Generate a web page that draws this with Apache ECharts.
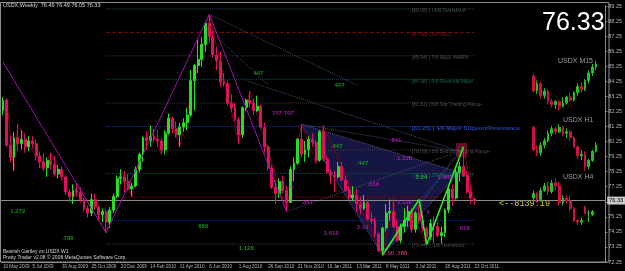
<!DOCTYPE html>
<html>
<head>
<meta charset="utf-8">
<script src="https://cdn.jsdelivr.net/npm/echarts/dist/echarts.min.js"></script>
<style>
html, body { margin: 0; padding: 0; background: #000; }
#main { width: 625px; height: 271px; }
</style>
</head>
<body>
<div id="main"></div>
<script>
// weekly bars, first bar = week of 10 May 2009, one label every 8 weeks
var tickLabels = ['10 May 2009', '5 Jul 2009', '30 Aug 2009', '25 Oct 2009', '20 Dec 2009', '14 Feb 2010',
    '11 Apr 2010', '6 Jun 2010', '1 Aug 2010', '26 Sep 2010', '21 Nov 2010', '16 Jan 2011', '13 Mar 2011',
    '8 May 2011', '3 Jul 2011', '28 Aug 2011', '23 Oct 2011'];

var weekOpen = [82.3, 83.0, 80.0, 79.2, 80.5, 80.1, 80.4, 79.9, 80.3, 80.1, 79.3, 78.9, 78.5, 79.0, 78.7, 78.1, 78.4, 77.9, 76.9, 76.6,
    77.0, 76.9, 76.4, 75.8, 75.5, 76.4, 75.9, 75.4, 75.6, 74.9, 75.7, 76.6, 77.8, 77.9, 77.6, 77.1, 77.3, 78.4, 79.4, 80.5,
    80.3, 80.6, 80.4, 80.3, 79.7, 80.8, 81.8, 81.1, 80.7, 81.2, 81.5, 82.0, 84.3, 85.3, 85.7, 86.7, 88.1, 87.2, 86.0, 85.6,
    84.2, 84.1, 82.8, 82.5, 81.7, 80.7, 82.5, 83.0, 82.8, 82.3, 82.6, 81.2, 79.9, 78.5, 77.2, 76.8, 77.6, 77.0, 76.2, 78.4,
    78.8, 80.4, 79.4, 79.7, 80.4, 80.2, 79.0, 80.9, 79.1, 78.2, 78.0, 77.9, 78.6, 77.7, 77.0, 76.5, 76.7, 76.1, 75.8, 76.2,
    75.1, 75.0, 74.1, 73.0, 74.5, 75.5, 75.6, 74.6, 73.7, 74.6, 75.0, 75.6, 74.4, 75.5, 75.0, 74.5, 73.9, 74.8, 74.6, 74.0,
    74.2, 75.7, 77.1, 76.5, 78.2, 78.6, 78.0, 76.9, 76.46];
var weekHigh = [83.2, 83.1, 80.6, 80.9, 81.4, 81.0, 80.8, 80.6, 80.6, 80.4, 79.6, 79.5, 79.2, 79.5, 79.3, 78.7, 78.6, 78.0, 77.1, 77.4,
    77.5, 77.2, 76.5, 76.0, 76.8, 76.8, 76.0, 75.8, 75.8, 75.9, 76.8, 78.0, 78.4, 78.3, 78.1, 77.5, 78.6, 79.5, 80.6, 80.9,
    81.3, 81.1, 81.0, 80.5, 81.0, 82.1, 81.9, 81.6, 81.5, 81.8, 82.5, 85.0, 85.4, 87.0, 87.2, 88.2, 88.7, 87.6, 86.5, 86.2,
    84.8, 84.3, 83.4, 82.8, 81.9, 82.6, 83.1, 83.6, 83.1, 83.3, 82.7, 81.5, 80.0, 78.7, 77.7, 77.8, 78.0, 77.3, 78.6, 79.2,
    80.5, 81.4, 80.3, 80.6, 80.8, 80.3, 81.0, 81.3, 79.3, 78.4, 78.3, 78.9, 78.9, 78.0, 77.3, 77.3, 77.1, 76.6, 76.7, 76.4,
    75.6, 75.2, 74.2, 74.6, 76.1, 76.4, 76.4, 75.1, 74.8, 75.8, 76.0, 75.8, 75.6, 76.1, 75.4, 74.6, 75.1, 75.3, 74.9, 74.6,
    75.8, 77.3, 77.4, 78.6, 78.9, 79.9, 78.3, 77.3, 76.49];
var weekLow = [82.0, 79.9, 78.9, 78.3, 79.6, 79.7, 79.5, 79.6, 79.8, 79.0, 78.5, 78.3, 77.9, 78.4, 77.9, 77.8, 77.7, 76.7, 76.2, 76.1,
    76.6, 76.2, 75.6, 75.2, 75.3, 75.7, 75.0, 74.9, 74.2, 74.5, 75.5, 76.5, 77.4, 76.9, 77.0, 76.6, 77.2, 78.2, 78.9, 79.7,
    79.9, 80.2, 79.9, 79.4, 79.4, 80.7, 80.8, 80.5, 79.9, 80.9, 81.0, 81.9, 82.3, 84.8, 85.2, 86.2, 86.8, 85.8, 85.0, 83.9,
    83.9, 82.6, 82.2, 81.6, 80.1, 80.5, 82.3, 82.5, 82.0, 82.2, 81.1, 79.5, 78.3, 77.1, 76.1, 76.5, 76.8, 75.6, 76.2, 77.6,
    78.7, 79.2, 78.9, 79.2, 79.9, 78.8, 78.9, 78.9, 78.1, 77.4, 76.9, 77.8, 77.6, 76.9, 76.4, 76.3, 75.6, 75.4, 75.7, 75.0,
    74.8, 73.9, 72.9, 72.7, 74.3, 75.0, 74.5, 73.6, 73.5, 74.2, 74.6, 74.2, 74.2, 74.8, 74.3, 73.4, 73.7, 73.5, 73.9, 73.5,
    73.9, 75.5, 76.0, 76.4, 77.6, 77.9, 76.8, 76.1, 76.05];
var weekClose = [83.0, 80.0, 79.2, 80.5, 80.1, 80.4, 79.9, 80.3, 80.1, 79.3, 78.9, 78.5, 79.0, 78.7, 78.1, 78.4, 77.9, 76.9, 76.6, 77.0,
    76.9, 76.4, 75.8, 75.5, 76.4, 75.9, 75.4, 75.6, 74.9, 75.7, 76.6, 77.8, 77.9, 77.6, 77.1, 77.3, 78.4, 79.4, 80.5, 80.3,
    80.6, 80.4, 80.3, 79.7, 80.8, 81.8, 81.1, 80.7, 81.2, 81.5, 82.0, 84.3, 85.3, 85.7, 86.7, 88.1, 87.2, 86.0, 85.6, 84.2,
    84.1, 82.8, 82.5, 81.7, 80.7, 82.5, 83.0, 82.8, 82.3, 82.6, 81.2, 79.9, 78.5, 77.2, 76.8, 77.6, 77.0, 76.2, 78.4, 78.8,
    80.4, 79.4, 79.7, 80.4, 80.2, 79.0, 80.9, 79.1, 78.2, 78.0, 77.9, 78.6, 77.7, 77.0, 76.5, 76.7, 76.1, 75.8, 76.2, 75.1,
    75.0, 74.1, 73.0, 74.5, 75.5, 75.6, 74.6, 73.7, 74.6, 75.0, 75.6, 74.4, 75.5, 75.0, 74.5, 73.9, 74.8, 74.6, 74.0, 74.2,
    75.7, 77.1, 76.5, 78.2, 78.6, 78.0, 76.9, 76.5, 76.33];

// small M15 / H1 / H4 panels drawn at the right, from bar slot 144
var miniStart = 144;
var m15Open = [84.6, 83.6, 84.1, 83.3, 83.6, 82.9, 82.7, 82.9, 82.6, 82.8, 83.2, 83.0, 83.5, 83.9, 83.7, 84.3, 84.8, 85.2];
var m15High = [84.75, 84.3, 84.2, 83.8, 83.7, 83.1, 83.0, 83.0, 83.2, 83.3, 83.5, 83.6, 84.1, 84.2, 84.4, 85.0, 85.4, 85.6];
var m15Low = [83.5, 83.4, 83.1, 83.1, 82.7, 82.5, 82.4, 82.3, 82.5, 82.7, 82.9, 82.9, 83.3, 83.5, 83.6, 84.1, 84.6, 85.0];
var m15Close = [83.6, 84.1, 83.3, 83.6, 82.9, 82.7, 82.9, 82.6, 82.8, 83.2, 83.0, 83.5, 83.9, 83.7, 84.3, 84.8, 85.2, 85.4];

var h1Open = [81.2, 79.7, 79.5, 80.0, 80.3, 80.8, 81.1, 80.9, 81.2, 80.8, 80.9, 80.5, 79.9, 79.3, 79.4, 78.6, 79.0, 79.6];
var h1High = [81.3, 80.0, 80.2, 80.5, 81.0, 81.3, 81.2, 81.4, 81.3, 81.1, 81.0, 80.6, 80.0, 79.7, 79.6, 79.1, 79.7, 80.2];
var h1Low = [79.6, 79.3, 79.3, 79.8, 80.2, 80.6, 80.7, 80.8, 80.6, 80.5, 80.3, 79.8, 79.1, 79.0, 78.3, 78.4, 78.9, 79.5];
var h1Close = [79.7, 79.5, 80.0, 80.3, 80.8, 81.1, 80.9, 81.2, 80.8, 80.9, 80.5, 79.9, 79.3, 79.4, 78.6, 79.0, 79.6, 80.0];

var h4Open = [76.5, 76.8, 76.4, 77.0, 77.3, 76.9, 77.5, 77.3, 76.2, 76.5, 76.3, 75.8, 75.0, 74.9, 75.9, 75.5, 75.4];
var h4High = [77.0, 76.9, 77.2, 77.5, 77.6, 77.7, 77.8, 77.6, 76.7, 76.7, 76.7, 75.9, 75.1, 75.2, 76.0, 75.7, 75.7];
var h4Low = [76.3, 76.2, 76.3, 76.9, 76.7, 76.8, 77.0, 76.0, 76.0, 76.1, 75.6, 74.9, 74.7, 74.7, 75.4, 74.9, 75.3];
var h4Close = [76.8, 76.4, 77.0, 77.3, 76.9, 77.5, 77.3, 76.2, 76.5, 76.3, 75.8, 75.0, 74.9, 75.0, 75.5, 75.5, 75.6];

// murrey math levels
var mmLevels = [89.06, 87.50, 85.94, 84.38, 82.81, 81.25, 79.69, 78.13, 76.56, 75.00, 73.44];
var mmNames = ['[89.06] | +1/8 Overshoot', '[87.50] | 8/8 SELL', '[85.94] | 7/8 SELL WARN', '[84.38] | 6/8 Reversal Major',
    '[82.81] | 5/8 Top Trading Range', '[81.25] | 4/8 Major Support/Resistance', '[79.69] | 3/8 Bottom Trading Range',
    '[78.13] | 2/8 Reversal Major', '', '', '[73.44] | -1/8 Overshoot'];
var mmColors = ['#34494c', '#7a1010', '#3a3a3a', '#1a4a4a', '#3a3a3a', '#26348a', '#3a3a3a', '#1a4a4a', '#7a1010', '#26348a', '#3a3a3a'];
var mmTextColors = ['#5e5e5e', '#b01020', '#5e5e5e', '#1f7a6a', '#5e5e5e', '#3050d0', '#5e5e5e', '#1f7a6a', '#b01020', '#3050d0', '#5e5e5e'];

// pattern points [bar, price]
var xabcLeg = [[0, 85.53], [28, 74.2], [56, 88.7], [77, 75.6]];
var zigzag = [[1, 83.1], [3, 78.3], [4, 81.4], [11, 78.3], [13, 79.5], [19, 76.1], [20, 77.5], [28, 74.2], [32, 78.4],
    [35, 76.6], [40, 81.3], [43, 79.4], [45, 82.1], [48, 79.9], [56, 88.7], [64, 80.1], [67, 83.6], [77, 75.6],
    [81, 81.4], [85, 78.8], [87, 81.3], [103, 72.7], [106, 76.4], [107, 73.6], [110, 76.0], [115, 73.4], [125, 79.9], [128, 76.05]];
var greenLeg = [[103, 72.7], [113, 76.4], [115, 73.4], [125, 79.9]];
var shadeA = [[81, 81.4], [124, 78.2], [103, 72.7]];
var shadeB = [[103, 72.7], [113, 76.4], [125, 79.9]];
var przBox = [[122.5, 80.15], [126, 79.2]];
var fanLines = [
    [[56, 88.7], [96, 84.0]],
    [[58, 87.2], [72, 84.0]],
    [[66, 84.3], [124, 79.6]],
    [[81, 81.4], [124, 79.6]],
    [[77, 75.6], [124, 79.6]],
    [[103, 72.7], [124, 79.6]]
];

// fib ratio tags [bar, price, text, colour]
var fibTags = [
    [67.6, 84.8, '447', '#22aa22'], [89.7, 84.0, '447', '#22aa22'], [73, 82.15, '707-707', '#c020c0'],
    [88.9, 79.9, '.447', '#22aa22'], [95.9, 78.8, '.447', '#22aa22'], [105.3, 80.35, '.841', '#c020c0'],
    [107.2, 79.16, '1.128', '#c020c0'], [77.6, 77.23, '5', '#c020c0'], [80.8, 76.23, '.841', '#c020c0'],
    [87, 74.18, '1.618', '#c020c0'], [95.6, 74.58, '3.14', '#c020c0'], [99.1, 77.43, '.618', '#c020c0'],
    [64.1, 73.18, '1.128', '#22aa22'], [52.6, 74.64, '886', '#22aa22'], [2.2, 75.64, '1.272', '#22aa22'],
    [15.9, 73.85, '.786', '#22aa22'], [107.2, 76.23, '1.128', '#c020c0'], [115.3, 75.57, '5', '#c020c0'],
    [124, 74.51, '618', '#c020c0'], [103.2, 72.85, '2.00 .786', '#e04080'], [111.5, 77.9, '2.24', '#22cc22'],
    [117.5, 77.9, '1.902', '#c020c0']
];

var chart = echarts.init(document.getElementById('main'));
var nCat = 164;
var cats = [];
for (var i = 0; i < nCat; i++) cats.push(String(i));

function candleRows(start, o, h, l, c) {
    var out = [];
    for (var i = 0; i < nCat; i++) {
        var k = i - start;
        if (k >= 0 && k < o.length) out.push([o[k], c[k], l[k], h[k]]);
        else out.push('-');
    }
    return out;
}

function lineSeries(pts, color, width, type, z) {
    return {
        type: 'line', data: pts, symbol: 'none', silent: true, z: z || 2, animation: false,
        lineStyle: { color: color, width: width, type: type || 'solid' }
    };
}

function polySeries(pts, fill) {
    return {
        type: 'custom', silent: true, z: 1, animation: false, data: [[0, 0]],
        renderItem: function (params, api) {
            return {
                type: 'polygon',
                shape: { points: pts.map(function (p) { return api.coord(p); }) },
                style: { fill: fill }
            };
        }
    };
}

var candleStyle = { color: '#22e022', color0: '#e0105c', borderColor: '#22e022', borderColor0: '#e0105c', borderWidth: 1 };
var miniStyle = { color: '#22c022', color0: '#d01040', borderColor: '#22c022', borderColor0: '#d01040', borderWidth: 1 };

var series = [];

// murrey lines + names
mmLevels.forEach(function (lv, k) {
    var s = lineSeries([[28, lv], [128, lv]], mmColors[k], 1, k == 1 ? 'dashed' : 'dotted', 1);
    series.push(s);
});
series.push({
    type: 'scatter', symbolSize: 0, silent: true, z: 3, animation: false,
    data: mmLevels.map(function (lv, k) {
        return {
            value: [111, lv - 0.12], name: mmNames[k],
            label: { color: mmTextColors[k], fontWeight: k == 5 ? 'bold' : 'normal', fontSize: k == 5 ? 6 : 5 }
        };
    }),
    label: { show: true, formatter: '{b}', position: [0, 0], align: 'left', verticalAlign: 'middle', fontFamily: 'Liberation Sans' }
});

series.push(polySeries(shadeA, 'rgba(36,36,110,0.6)'));
series.push(polySeries(shadeB, 'rgba(36,36,110,0.5)'));
series.push(polySeries([[przBox[0][0], przBox[0][1]], [przBox[1][0], przBox[0][1]], [przBox[1][0], przBox[1][1]], [przBox[0][0], przBox[1][1]]], 'rgba(190,30,70,0.55)'));

fanLines.forEach(function (f) { series.push(lineSeries(f, '#4a4a6a', 1, 'dotted', 2)); });
series.push(lineSeries(shadeA.concat([shadeA[0]]), '#5a5a90', 1, 'dotted', 2));
series.push(lineSeries(zigzag, '#800018', 1, 'solid', 4));
series.push(lineSeries(xabcLeg, '#a010b0', 1, 'solid', 6));
series.push(lineSeries(greenLeg, '#20f020', 1.6, 'solid', 6));

series.push({
    type: 'candlestick', z: 5, animation: false, barWidth: 2.4,
    data: candleRows(0, weekOpen, weekHigh, weekLow, weekClose),
    itemStyle: candleStyle,
    markLine: {
        symbol: 'none', silent: true, animation: false,
        lineStyle: { color: '#8c8c8c', type: 'solid', width: 1 },
        label: { position: 'end', formatter: '76.33', backgroundColor: '#c8c8c8', color: '#000', fontSize: 5.5, padding: [1, 2], distance: 2 },
        data: [{ yAxis: 76.33 }]
    }
});
series.push({ type: 'candlestick', z: 5, animation: false, barWidth: 2.2, data: candleRows(miniStart, m15Open, m15High, m15Low, m15Close), itemStyle: miniStyle });
series.push({ type: 'candlestick', z: 5, animation: false, barWidth: 2.2, data: candleRows(miniStart, h1Open, h1High, h1Low, h1Close), itemStyle: miniStyle });
series.push({ type: 'candlestick', z: 5, animation: false, barWidth: 2.2, data: candleRows(miniStart, h4Open, h4High, h4Low, h4Close), itemStyle: miniStyle });

series.push({
    type: 'scatter', symbolSize: 0, silent: true, z: 8, animation: false,
    data: fibTags.map(function (t) {
        return { value: [t[0], t[1]], name: t[2], label: { color: t[3] } };
    }),
    label: { show: true, formatter: '{b}', position: [0, 0], align: 'left', verticalAlign: 'middle', fontSize: 6, fontWeight: 'bold', fontFamily: 'Liberation Sans' }
});

var option = {
    backgroundColor: '#000',
    animation: false,
    grid: { left: 0, right: 16, top: 6, bottom: 9 },
    xAxis: {
        type: 'category', data: cats, boundaryGap: true,
        axisLine: { lineStyle: { color: '#8c8c8c' } },
        axisTick: {
            alignWithLabel: true, length: 2, lineStyle: { color: '#8c8c8c' },
            interval: function (idx) { return idx % 8 == 0 && idx <= 128; }
        },
        axisLabel: {
            interval: function (idx) { return idx % 8 == 0 && idx <= 128; },
            formatter: function (v, idx) { return tickLabels[idx / 8] || ''; },
            color: '#b4b4b4', fontSize: 4.6, margin: 2, align: 'left', fontFamily: 'Liberation Sans'
        },
        splitLine: { show: false }
    },
    yAxis: {
        type: 'value', position: 'right', min: 72.25, max: 89.25, interval: 1, scale: true,
        axisLine: { show: true, lineStyle: { color: '#8c8c8c' } },
        axisTick: { show: true, length: 2, lineStyle: { color: '#8c8c8c' } },
        axisLabel: { color: '#b4b4b4', fontSize: 5.5, margin: 3, fontFamily: 'Liberation Sans', formatter: function (v) { return v.toFixed(2); } },
        splitLine: { show: false }
    },
    graphic: [
        { type: 'rect', shape: { x: 0.5, y: 2.5, width: 608.5, height: 259.5 }, style: { fill: 'none', stroke: '#8c8c8c', lineWidth: 1 }, silent: true },
        { type: 'text', left: 3, top: 2, style: { text: 'USDX,Weekly  76.46 76.49 76.05 76.33', fill: '#d8d8d8', fontSize: 5.5, fontFamily: 'Liberation Sans' } },
        { type: 'text', left: 542, top: 11, style: { text: '76.33', fill: '#ffffff', fontSize: 25, fontFamily: 'Liberation Sans' } },
        { type: 'text', left: 558, top: 58, style: { text: 'USDX M15', fill: '#9a9a9a', fontSize: 7, fontFamily: 'Liberation Sans' } },
        { type: 'text', left: 563, top: 117, style: { text: 'USDX H1', fill: '#9a9a9a', fontSize: 7, fontFamily: 'Liberation Sans' } },
        { type: 'text', left: 563, top: 174, style: { text: 'USDX H4', fill: '#9a9a9a', fontSize: 7, fontFamily: 'Liberation Sans' } },
        { type: 'text', left: 499, top: 199, style: { text: '<--8139:19', fill: '#d0d000', fontSize: 8.5, fontFamily: 'Liberation Mono' } },
        { type: 'text', left: 3, top: 249, style: { text: 'Bearish Gartley on USDX W1', fill: '#d8d8d8', fontSize: 5, fontFamily: 'Liberation Sans' } },
        { type: 'text', left: 3, top: 255, style: { text: 'Pretty Trader v2.08 \u00a9 2008 MetaQuotes Software Corp.', fill: '#d8d8d8', fontSize: 5, fontFamily: 'Liberation Sans' } }
    ],
    series: series
};

chart.setOption(option);
</script>
</body>
</html>
